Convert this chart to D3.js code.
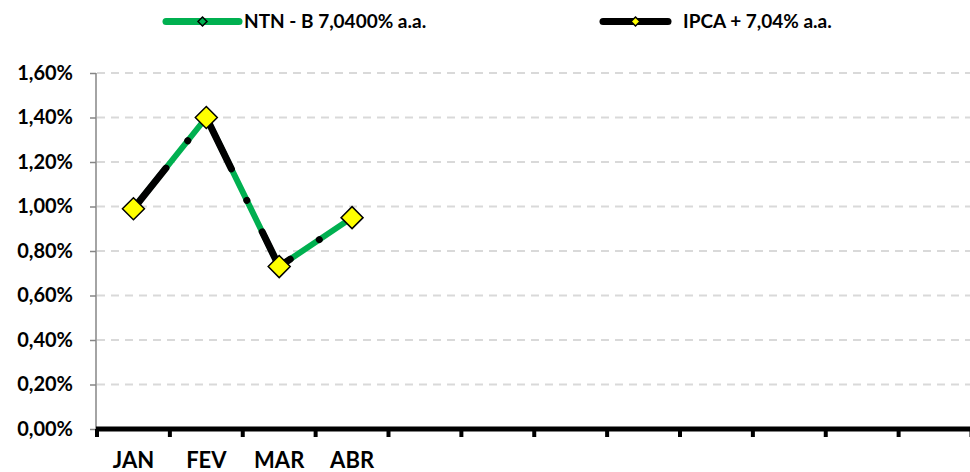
<!DOCTYPE html>
<html><head><meta charset="utf-8">
<script src="https://cdn.jsdelivr.net/npm/d3@7"></script>
<style>
html,body{margin:0;padding:0;background:#fff;}
svg{display:block;}
text{font-family:Lato,"Open Sans",sans-serif;font-weight:bold;fill:#000;}
</style></head>
<body>
<svg id="c" width="970" height="472"></svg>
<script>
const months = ["JAN","FEV","MAR","ABR","MAI","JUN","JUL","AGO","SET","OUT","NOV","DEZ"];
const monthLabels = ["JAN","FEV","MAR","ABR","","","","","","","",""];
const ntnbValues = [0.99, 1.40, 0.73, 0.95];
const ipcaValues = [0.99, 1.40, 0.73, 0.95];
const yTicks = [0, 0.2, 0.4, 0.6, 0.8, 1.0, 1.2, 1.4, 1.6];
const seriesNames = ["NTN - B 7,0400% a.a.", "IPCA + 7,04% a.a."];

const svg = d3.select("#c");
const x = d3.scaleBand().domain(months).range([97, 971.5]).paddingInner(0).paddingOuter(0);
const y = d3.scaleLinear().domain([0, 1.6]).range([429, 73]);
const fmt = v => d3.format(".2f")(v).replace(".", ",") + "%";

// gridlines
svg.append("g").selectAll("line").data(yTicks.filter(d => d > 0)).join("line")
  .attr("x1", 97).attr("x2", 970)
  .attr("y1", d => y(d)).attr("y2", d => y(d))
  .attr("stroke", "#d9d9d9").attr("stroke-width", 2).attr("stroke-dasharray", "8,6");

// y axis
const yAxis = d3.axisLeft(y).tickValues(yTicks).tickFormat(fmt).tickSize(6).tickPadding(17);
const gy = svg.append("g").attr("transform", "translate(96,0)").call(yAxis);
gy.select(".domain").attr("stroke", "#868686").attr("stroke-width", 1.5).attr("d", `M0,${y(1.6)}V${y(0)}`);
gy.selectAll(".tick line").attr("stroke", "#868686").attr("stroke-width", 1.5);
gy.selectAll(".tick text").attr("font-size", 20).style("font-family", "Lato, 'Open Sans', sans-serif").attr("font-weight", "bold").attr("fill", "#000");

// x axis
const xAxis = d3.axisBottom(x).tickFormat((d, i) => monthLabels[i]).tickSize(0).tickPadding(23);
const gx = svg.append("g").attr("transform", `translate(0,${y(0)})`).call(xAxis);
gx.select(".domain").attr("stroke", "#000").attr("stroke-width", 5).attr("d", `M96,0H970`);
gx.selectAll(".tick text").attr("font-size", 22).style("font-family", "Lato, 'Open Sans', sans-serif").attr("font-weight", "bold").attr("fill", "#000");
// between-category tick marks
const bounds = months.map(m => x(m)).concat([x(months[11]) + x.bandwidth()]);
svg.append("g").selectAll("line").data(bounds).join("line")
  .attr("x1", d => d).attr("x2", d => d)
  .attr("y1", y(0)).attr("y2", y(0) + 8)
  .attr("stroke", "#000").attr("stroke-width", 4);

const pts = ntnbValues.map((v, i) => [x(months[i]) + x.bandwidth() / 2, y(v)]);
const pts2 = ipcaValues.map((v, i) => [x(months[i]) + x.bandwidth() / 2, y(v)]);
const line = d3.line();

svg.append("path").attr("d", line(pts)).attr("fill", "none")
  .attr("stroke", "#00b050").attr("stroke-width", 6).attr("stroke-linejoin", "round");
svg.append("path").attr("d", line(pts2)).attr("fill", "none")
  .attr("stroke", "#000").attr("stroke-width", 7).attr("stroke-linecap", "round")
  .attr("stroke-linejoin", "round").attr("stroke-dasharray", "52,35,0.01,35");

const diamond = r => `M0,${-r}L${r},0L0,${r}L${-r},0Z`;
svg.append("g").selectAll("path").data(pts2).join("path")
  .attr("transform", d => `translate(${d[0]},${d[1]})`)
  .attr("d", diamond(11)).attr("fill", "#ffff00").attr("stroke", "#000").attr("stroke-width", 1.5);

// legend
const leg = [
  {name: seriesNames[0], x1: 166, x2: 239, color: "#00b050", mfill: "#00b050", tx: 244},
  {name: seriesNames[1], x1: 603, x2: 668, color: "#000", mfill: "#ffff00", tx: 683}
];
const lg = svg.append("g").selectAll("g").data(leg).join("g");
lg.append("line").attr("x1", d => d.x1).attr("x2", d => d.x2).attr("y1", 21.5).attr("y2", 21.5)
  .attr("stroke", d => d.color).attr("stroke-width", 7).attr("stroke-linecap", "round");
lg.append("path").attr("transform", d => `translate(${(d.x1 + d.x2) / 2},21.5)`)
  .attr("d", diamond(4.5)).attr("fill", d => d.mfill).attr("stroke", "#000").attr("stroke-width", 1.5);
lg.append("text").attr("x", d => d.tx).attr("y", 28).attr("font-size", 19).text(d => d.name);
</script>
</body></html>
